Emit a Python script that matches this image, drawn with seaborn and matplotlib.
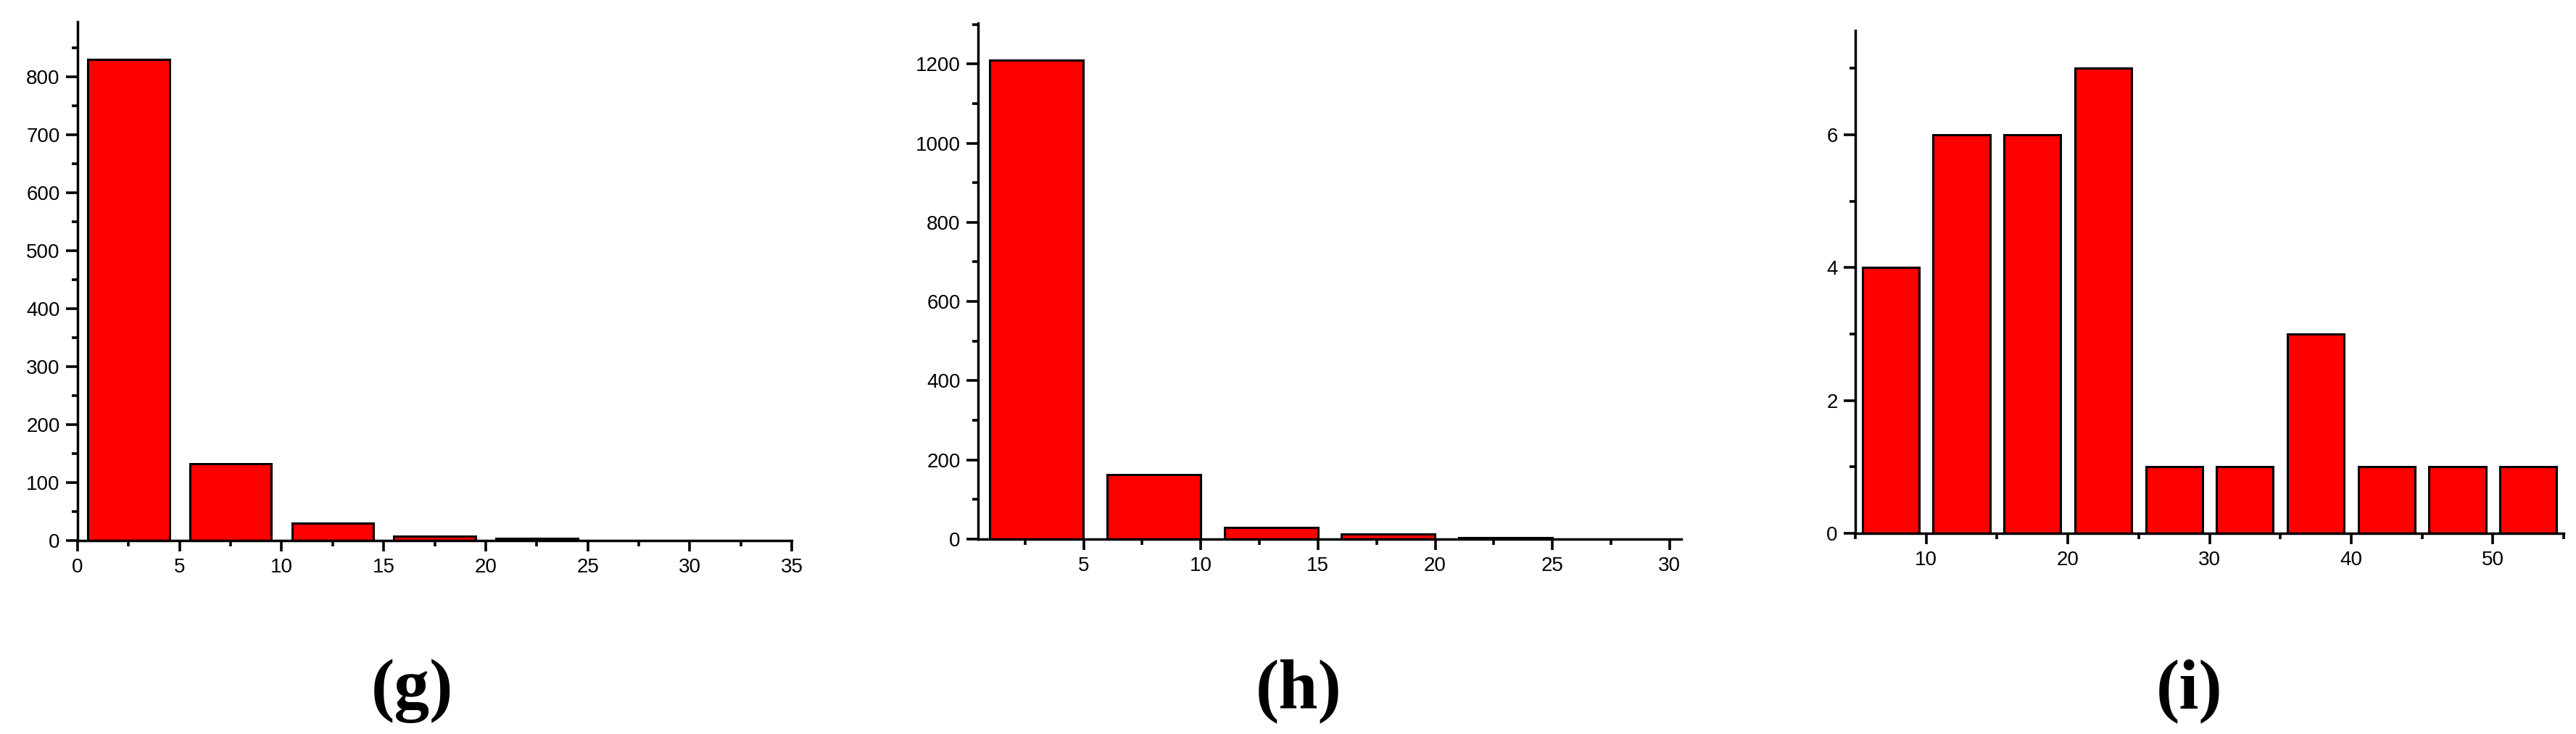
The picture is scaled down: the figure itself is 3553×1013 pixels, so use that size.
import matplotlib
matplotlib.use("Agg")
import matplotlib.pyplot as plt
from matplotlib.ticker import MultipleLocator, FuncFormatter
import seaborn as sns

# ---- data ----
g_bins = [2.5, 7.5, 12.5, 17.5, 22.5]
g_counts = [830, 132, 30, 8, 4]

h_bins = [3, 8, 13, 18, 23]
h_counts = [1210, 162, 30, 13, 4]

i_bins = [7.5, 12.5, 17.5, 22.5, 27.5, 32.5, 37.5, 42.5, 47.5, 52.5]
i_counts = [4, 6, 6, 7, 1, 1, 3, 1, 1, 1]

panel_labels = ["(g)", "(h)", "(i)"]

sns.set_style("ticks")
plt.rcParams['font.family'] = ['Liberation Sans', 'DejaVu Sans']
plt.rcParams['text.color'] = 'black'

W, H = 3553, 1013
fig = plt.figure(figsize=(W / 100, H / 100), dpi=100)

def rect(l, r, t, b):
    return [l / W, 1 - b / H, (r - l) / W, (b - t) / H]

specs = [
    dict(x=g_bins, y=g_counts, pos=rect(107, 1092, 30, 746), xlim=(0, 35), ylim=(0, 895),
         xmaj=5, xmin=2.5, ymaj=100, ymin=50, lab_x=569),
    dict(x=h_bins, y=h_counts, pos=rect(1349, 2319, 32, 744), xlim=(0.5, 30.5), ylim=(0, 1303),
         xmaj=5, xmin=2.5, ymaj=200, ymin=100, lab_x=1791),
    dict(x=i_bins, y=i_counts, pos=rect(2559, 3536, 42, 736), xlim=(5, 55), ylim=(0, 7.57),
         xmaj=10, xmin=5, ymaj=2, ymin=1, lab_x=3020),
]

fmt = FuncFormatter(lambda v, p: f"{v:g}")

for s, lab in zip(specs, panel_labels):
    ax = fig.add_axes(s["pos"])
    sns.barplot(x=s["x"], y=s["y"], native_scale=True, color="#ff0000", saturation=1,
                edgecolor="black", linewidth=2.2, width=0.8, errorbar=None, ax=ax)
    ax.set_xlim(*s["xlim"])
    ax.set_ylim(*s["ylim"])
    ax.xaxis.set_major_locator(MultipleLocator(s["xmaj"]))
    ax.xaxis.set_minor_locator(MultipleLocator(s["xmin"]))
    ax.yaxis.set_major_locator(MultipleLocator(s["ymaj"]))
    ax.yaxis.set_minor_locator(MultipleLocator(s["ymin"]))
    ax.yaxis.set_major_formatter(fmt)
    ax.xaxis.set_major_formatter(fmt)
    for sp in ["top", "right"]:
        ax.spines[sp].set_visible(False)
    for sp in ["left", "bottom"]:
        ax.spines[sp].set_linewidth(2.5)
        ax.spines[sp].set_color("black")
    ax.tick_params(axis="y", which="major", direction="out", length=11.5, width=2.6,
                   pad=6, labelsize=20, colors="black")
    ax.tick_params(axis="y", which="minor", direction="out", length=6, width=2.6, colors="black")
    ax.tick_params(axis="x", which="major", direction="out", length=10.5, width=2.6,
                   pad=7, labelsize=20, colors="black")
    ax.tick_params(axis="x", which="minor", direction="out", length=5.5, width=2.6, colors="black")
    ax.set_xlabel("")
    ax.set_ylabel("")
    ax.grid(False)
    ax.set_facecolor("white")
    fig.text(s["lab_x"] / W, 1 - 954 / H, lab, ha="center", va="center", color="black",
             family=["Liberation Serif", "DejaVu Serif"], fontweight="bold", fontsize=70)

fig.savefig("out.png", dpi=100, facecolor="white")
